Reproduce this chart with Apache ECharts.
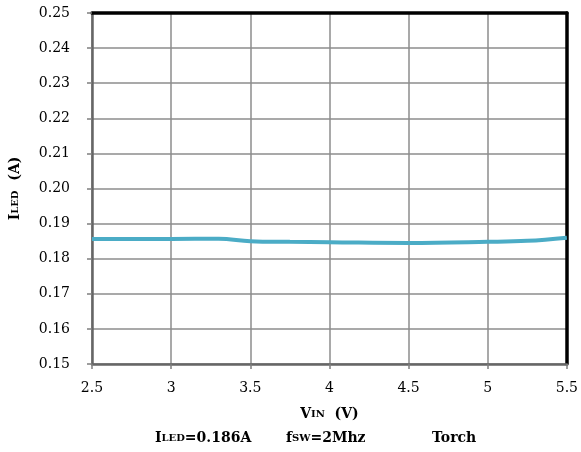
<!DOCTYPE html>
<html>
<head>
<meta charset="utf-8">
<script src="https://cdn.jsdelivr.net/npm/echarts@6/dist/echarts.min.js"></script>
<style>html,body{margin:0;padding:0;background:#fff}#c{width:581px;height:452px}</style>
</head>
<body>
<div id="c"></div>
<script>
var vin = [2.5, 2.75, 3.0, 3.3, 3.5, 3.75, 4.0, 4.5, 5.0, 5.25, 5.5];
var iled = [0.1856, 0.1856, 0.1856, 0.1857, 0.1850, 0.1848, 0.1847, 0.1845, 0.1848, 0.1851, 0.1860];
var yMin = 0.15, yMax = 0.25, yStep = 0.01;
var xMin = 2.5, xMax = 5.5, xStep = 0.5;

var FONT = 'DejaVu Serif';
var chart = echarts.init(document.getElementById('c'), null, {renderer: 'canvas'});
var data = vin.map(function (v, i) { return [v, iled[i]]; });
var big = {fontFamily: FONT, fontWeight: 'bold', fontSize: 14, color: '#000'};
var sm = {fontFamily: FONT, fontWeight: 'bold', fontSize: 10, color: '#000'};
var frame = {show: true, onZero: false, lineStyle: {color: '#000', width: 3.5}};

chart.setOption({
  animation: false,
  backgroundColor: '#fff',
  grid: {left: 90, top: 13, right: 13, bottom: 88},
  xAxis: [{
    type: 'value', min: xMin, max: xMax, interval: xStep,
    axisLine: {show: true, onZero: false, lineStyle: {color: '#666', width: 2.5}},
    axisTick: {show: true, length: 5, lineStyle: {color: '#7f7f7f', width: 1.5}},
    splitLine: {show: true, lineStyle: {color: '#8c8c8c', width: 1.5}},
    axisLabel: {margin: 17, fontFamily: FONT, fontSize: 14, color: '#000'},
    name: '{b|V}{s|IN}{b|  (V)}',
    nameLocation: 'middle', nameGap: 43,
    nameTextStyle: {rich: {b: big, s: sm}}
  }, {
    type: 'value', position: 'top', min: xMin, max: xMax, interval: xStep,
    axisLine: frame, axisTick: {show: false}, axisLabel: {show: false}, splitLine: {show: false}
  }],
  yAxis: [{
    type: 'value', min: yMin, max: yMax, interval: yStep,
    axisLine: {show: true, onZero: false, lineStyle: {color: '#666', width: 2.5}},
    axisTick: {show: true, length: 5, lineStyle: {color: '#7f7f7f', width: 1.5}},
    splitLine: {show: true, lineStyle: {color: '#8c8c8c', width: 1.5}},
    axisLabel: {margin: 22, fontFamily: FONT, fontSize: 14, color: '#000',
      formatter: function (v) { return v.toFixed(2); }},
    name: '{b|I}{s|LED}{b|  (A)}',
    nameLocation: 'middle', nameGap: 70, nameRotate: 90,
    nameTextStyle: {rich: {b: big, s: sm}}
  }, {
    type: 'value', position: 'right', min: yMin, max: yMax, interval: yStep,
    axisLine: frame, axisTick: {show: false}, axisLabel: {show: false}, splitLine: {show: false}
  }],
  series: [{
    type: 'line', data: data, smooth: 0.4, symbol: 'none', xAxisIndex: 0, yAxisIndex: 0,
    lineStyle: {color: '#4bacc6', width: 4}
  }],
  graphic: [
    {type: 'text', left: 155, top: 431, style: {rich: {b: big, s: sm}, text: '{b|I}{s|LED}{b|=0.186A}'}},
    {type: 'text', left: 286, top: 431, style: {rich: {b: big, s: sm}, text: '{b|f}{s|SW}{b|=2Mhz}'}},
    {type: 'text', left: 432, top: 431, style: {rich: {b: big, s: sm}, text: '{b|Torch}'}}
  ]
});
</script>
</body>
</html>
